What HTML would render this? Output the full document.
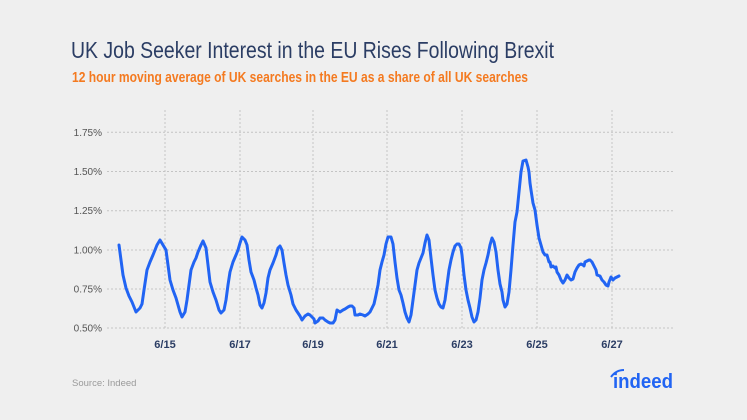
<!DOCTYPE html>
<html><head><meta charset="utf-8"><style>
html,body{margin:0;padding:0;background:#efefef;}
body{width:747px;height:420px;overflow:hidden;font-family:"Liberation Sans",sans-serif;}
</style></head><body>
<svg width="747" height="420" xmlns="http://www.w3.org/2000/svg" style="display:block">
<rect width="747" height="420" fill="#efefef"/>
<text x="71" y="58" font-family="Liberation Sans" font-size="23.5" fill="#2b3d64" textLength="483" lengthAdjust="spacingAndGlyphs">UK Job Seeker Interest in the EU Rises Following Brexit</text>
<text x="72" y="82" font-family="Liberation Sans" font-size="14.5" font-weight="bold" fill="#f47a20" textLength="456" lengthAdjust="spacingAndGlyphs">12 hour moving average of UK searches in the EU as a share of all UK searches</text>
<g stroke="#c4c4c4" stroke-width="1" stroke-dasharray="2,2">
<line x1="107" y1="132.3" x2="673" y2="132.3"/>
<line x1="107" y1="171.5" x2="673" y2="171.5"/>
<line x1="107" y1="210.7" x2="673" y2="210.7"/>
<line x1="107" y1="250" x2="673" y2="250"/>
<line x1="107" y1="289" x2="673" y2="289"/>
<line x1="107" y1="328" x2="673" y2="328"/>
<line x1="165" y1="110" x2="165" y2="328"/>
<line x1="240" y1="110" x2="240" y2="328"/>
<line x1="313" y1="110" x2="313" y2="328"/>
<line x1="387" y1="110" x2="387" y2="328"/>
<line x1="462" y1="110" x2="462" y2="328"/>
<line x1="537" y1="110" x2="537" y2="328"/>
<line x1="612" y1="110" x2="612" y2="328"/>
</g>
<g font-family="Liberation Sans" font-size="10" fill="#555" text-anchor="end">
<text x="102" y="136">1.75%</text>
<text x="102" y="175">1.50%</text>
<text x="102" y="214">1.25%</text>
<text x="102" y="253.5">1.00%</text>
<text x="102" y="292.5">0.75%</text>
<text x="102" y="331.5">0.50%</text>
</g>
<g font-family="Liberation Sans" font-size="11" font-weight="bold" fill="#2b3d64" text-anchor="middle">
<text x="165" y="348">6/15</text>
<text x="240" y="348">6/17</text>
<text x="313" y="348">6/19</text>
<text x="387" y="348">6/21</text>
<text x="462" y="348">6/23</text>
<text x="537" y="348">6/25</text>
<text x="612" y="348">6/27</text>
</g>
<polyline fill="none" stroke="#2164f3" stroke-width="3" stroke-linejoin="round" stroke-linecap="round" points="119,245 121,260 123,275 126,288 129,296 132,302 134,307 136,312 140,308 142,304 144,290 147,270 150,262 153,255 155,250 157,245 160,240 163,245 166,250 168,265 170,280 173,290 176,298 178,305 180,312 182,317 185,312 187,300 189,285 191,270 194,262 196,258 198,252 201,245 203,241 206,248 208,265 210,282 213,292 216,300 219,310 221,313 224,310 226,300 228,285 230,272 233,262 236,255 238,250 240,243 242,237 245,240 247,245 249,260 251,272 254,280 256,288 258,295 260,305 262,308 264,303 266,293 268,278 270,270 273,263 276,255 278,248 280,246 282,250 284,263 286,275 288,285 291,295 293,304 296,310 298,313 300,316 302,320 305,316 308,314 310,315 312,317 314,319 315,323 318,321 320,318 323,318 325,320 328,322 330,323 333,323 335,320 337,310 340,312 343,310 345,309 348,307 350,306 352,306 354,308 355,315 358,315 360,314 363,315 365,316 368,314 370,312 372,308 374,304 376,295 378,285 380,270 382,262 384,255 386,244 388,237 391,237 393,244 395,262 397,278 399,290 401,295 403,303 405,312 407,318 409,322 411,315 413,300 415,285 417,270 419,263 421,258 423,253 425,243 427,235 429,240 431,258 433,275 435,290 437,298 439,304 441,307 443,308 445,300 447,285 449,270 451,260 453,252 455,246 457,244 459,244 461,248 462,255 464,275 466,290 468,300 470,308 472,317 474,322 476,320 478,312 480,298 482,280 484,270 486,263 488,255 490,245 492,238 494,242 496,252 498,270 500,284 502,292 503,300 505,307 507,304 509,292 511,270 513,245 515,222 517,212 519,192 521,172 523,161 526,160 528,167 529,172 530,183 531,190 533,203 535,210 537,225 539,238 541,245 543,252 545,255 547,255 549,262 550,262 551,267 553,266 555,268 556,267 557,272 559,275 561,280 563,283 565,280 567,275 569,278 571,280 573,279 575,272 577,268 579,265 581,264 583,265 584,266 585,262 587,261 589,260 590,260 592,262 594,266 596,270 597,275 600,276 602,280 604,282 606,285 608,286 609,282 611,277 613,280 615,278 617,277 619,276"/>
<text x="72" y="386" font-family="Liberation Sans" font-size="9.5" fill="#9a9a9a">Source: Indeed</text>
<text x="613" y="388" font-family="Liberation Sans" font-size="20" font-weight="bold" fill="#2164f3" textLength="60" lengthAdjust="spacingAndGlyphs">indeed</text>
<path d="M611,377 Q616,370 624,370" fill="none" stroke="#2164f3" stroke-width="2"/>
</svg>
</body></html>
